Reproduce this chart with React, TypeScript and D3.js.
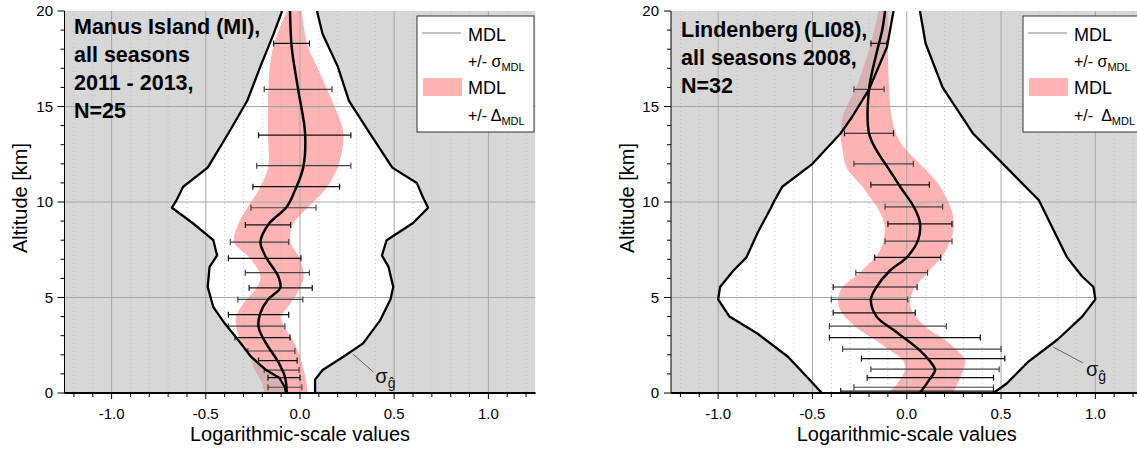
import React from 'react';
import * as d3 from 'd3';

type Pt = [number, number]; // [altitude km, value]
type Band = [number, number, number]; // [altitude km, low, high]

const X_DOMAIN: [number, number] = [-1.25, 1.25];
const Y_DOMAIN: [number, number] = [0, 20];
const xTickLabels = [-1.0, -0.5, 0.0, 0.5, 1.0];
const yTickLabels = [0, 5, 10, 15, 20];

// ---- Manus Island (MI), all seasons 2011 - 2013, N=25 ----
const miTitle = ['Manus Island (MI),', 'all seasons', '2011 - 2013,', 'N=25'];
const miEnvLeft: Pt[] = [
  [0, -0.075], [0.3, -0.08], [0.8, -0.11], [1.2, -0.18], [1.9, -0.26], [2.8, -0.33],
  [3.65, -0.4], [4.5, -0.46], [5.55, -0.49], [6.6, -0.48], [7.2, -0.44], [8.0, -0.46],
  [8.9, -0.57], [9.7, -0.68], [10.1, -0.655], [10.8, -0.62], [11.8, -0.49], [13.6, -0.38],
  [15.3, -0.28], [17.1, -0.21], [18.8, -0.14], [20, -0.095],
];
const miEnvRight: Pt[] = [
  [0, 0.08], [0.7, 0.08], [1.2, 0.12], [1.9, 0.23], [2.6, 0.335], [3.8, 0.425],
  [4.9, 0.48], [5.55, 0.495], [6.6, 0.47], [7.2, 0.435], [8.0, 0.46], [8.9, 0.6],
  [9.7, 0.68], [10.3, 0.65], [11.0, 0.62], [11.8, 0.49], [13.6, 0.37], [15.3, 0.26],
  [17.1, 0.2], [18.8, 0.12], [20, 0.09],
];
const miMdl: Pt[] = [
  [0, -0.07], [0.85, -0.08], [1.7, -0.12], [2.6, -0.18], [3.45, -0.22], [4.2, -0.21],
  [4.9, -0.17], [5.5, -0.105], [6.1, -0.115], [7.1, -0.18], [7.9, -0.21], [8.8, -0.17],
  [9.75, -0.07], [10.6, -0.027], [11.8, 0.017], [13.6, 0.027], [15.9, -0.01],
  [18.1, -0.044], [20, -0.053],
];
const miDelta: Band[] = [
  [0, -0.19, 0.04], [0.5, -0.2, 0.035], [1.2, -0.24, 0.02], [1.9, -0.265, 0.0],
  [2.8, -0.32, -0.04], [3.6, -0.34, -0.09], [4.0, -0.34, -0.1], [4.7, -0.3, -0.05],
  [5.5, -0.23, 0.0], [6.1, -0.21, 0.02], [7.0, -0.26, 0.0], [7.9, -0.35, -0.05],
  [8.8, -0.33, -0.04], [9.7, -0.28, 0.04], [10.6, -0.22, 0.13], [11.8, -0.17, 0.2],
  [13.6, -0.17, 0.23], [15.3, -0.17, 0.17], [17.1, -0.16, 0.09], [18.2, -0.14, 0.04],
  [20, -0.07, 0.01],
];
const miSigma: Band[] = [
  [18.3, -0.14, 0.05], [15.9, -0.19, 0.17], [13.5, -0.22, 0.27], [11.9, -0.23, 0.27],
  [10.8, -0.25, 0.21], [9.7, -0.26, 0.085], [8.8, -0.29, -0.05], [7.9, -0.37, -0.06],
  [7.05, -0.38, 0.005], [6.3, -0.29, 0.05], [5.5, -0.27, 0.065], [4.9, -0.33, 0.015],
  [4.1, -0.38, -0.06], [3.5, -0.38, -0.08], [2.9, -0.345, -0.053], [2.2, -0.277, -0.027],
  [1.7, -0.22, -0.015], [1.2, -0.19, -0.005], [0.8, -0.17, 0.0], [0.3, -0.17, 0.01],
];
const miSigmaG = { leader: [[2.04, 0.28], [1.1, 0.39]] as Pt[], label: [0.5, 0.4] as Pt };

// ---- Lindenberg (LI08), all seasons 2008, N=32 ----
const liTitle = ['Lindenberg (LI08),', 'all seasons 2008,', 'N=32'];
const liEnvLeft: Pt[] = [
  [0, -0.45], [0.85, -0.53], [1.9, -0.63], [3.1, -0.79], [4.0, -0.94], [4.9, -1.0],
  [5.55, -0.99], [6.4, -0.92], [7.1, -0.85], [8.4, -0.79], [9.7, -0.72], [10.1, -0.7],
  [10.8, -0.66], [12.0, -0.5], [13.6, -0.35], [14.45, -0.29], [15.9, -0.2], [18.1, -0.105],
  [20, -0.07],
];
const liEnvRight: Pt[] = [
  [0, 0.46], [0.5, 0.53], [1.6, 0.64], [2.8, 0.8], [4.0, 0.93], [4.9, 1.0], [5.55, 0.99],
  [6.1, 0.93], [7.1, 0.85], [8.5, 0.78], [10.1, 0.7], [10.5, 0.66], [11.8, 0.53],
  [13.6, 0.35], [16.0, 0.19], [18.3, 0.1], [20, 0.07],
];
const liMdl: Pt[] = [
  [0, 0.07], [0.7, 0.12], [1.2, 0.15], [1.7, 0.12], [2.4, 0.05], [3.3, -0.07],
  [4.0, -0.16], [4.9, -0.19], [5.55, -0.16], [6.4, -0.09], [7.1, 0.0], [8.0, 0.06],
  [8.9, 0.07], [9.7, 0.04], [10.8, -0.035], [11.8, -0.1], [12.7, -0.16], [13.6, -0.2],
  [15.9, -0.2], [17.8, -0.16], [19.0, -0.13], [20, -0.115],
];
const liDelta: Band[] = [
  [0, -0.1, 0.245], [0.5, -0.05, 0.27], [1.2, -0.01, 0.3], [1.7, -0.02, 0.31],
  [2.3, -0.1, 0.26], [2.8, -0.17, 0.2], [3.45, -0.27, 0.1], [4.5, -0.36, 0.02],
  [5.4, -0.35, 0.035], [6.3, -0.25, 0.11], [7.5, -0.14, 0.21], [8.9, -0.12, 0.25],
  [10.6, -0.22, 0.19], [11.8, -0.32, 0.09], [12.7, -0.34, 0.0], [13.4, -0.35, -0.05],
  [14.45, -0.34, -0.08], [16.2, -0.26, -0.095], [18.3, -0.19, -0.1], [20, -0.15, -0.1],
];
const liSigma: Band[] = [
  [18.3, -0.19, -0.105], [15.9, -0.28, -0.12], [13.6, -0.33, -0.07], [12.0, -0.28, 0.035],
  [10.9, -0.19, 0.12], [9.75, -0.115, 0.19], [8.85, -0.1, 0.24], [7.95, -0.115, 0.24],
  [7.1, -0.17, 0.18], [6.3, -0.27, 0.11], [5.55, -0.39, 0.055], [4.9, -0.4, 0.005],
  [4.2, -0.39, 0.045], [3.5, -0.41, 0.21], [2.9, -0.41, 0.39], [2.3, -0.34, 0.5],
  [1.8, -0.24, 0.52], [1.25, -0.19, 0.49], [0.8, -0.21, 0.46], [0.3, -0.28, 0.46],
  [0.1, -0.35, 0.46],
];
const liSigmaG = { leader: [[2.41, 0.776], [1.57, 0.935]] as Pt[], label: [0.9, 0.95] as Pt };

const W = 1137;
const H = 449;
const TOP = 11;
const BOTTOM = 393;
const FONT = '"Liberation Sans", Arial, Helvetica, sans-serif';
const PINK = '#ffb3b3';

interface PanelProps {
  id: string;
  left: number;
  right: number;
  yLabelX: number;
  yTitleX: number;
  title: string[];
  titleX: number;
  titleY: number;
  legendX: number;
  legendW: number;
  deltaLabel: string;
  envLeft: Pt[];
  envRight: Pt[];
  mdl: Pt[];
  delta: Band[];
  sigma: Band[];
  sigmaG: { leader: Pt[]; label: Pt };
}

function Panel(p: PanelProps) {
  const x = d3.scaleLinear().domain(X_DOMAIN).range([p.left, p.right]);
  const y = d3.scaleLinear().domain(Y_DOMAIN).range([BOTTOM, TOP]);

  const straight = d3.line<Pt>().x((d) => x(d[1])).y((d) => y(d[0]));
  const smooth = d3
    .line<Pt>()
    .x((d) => x(d[1]))
    .y((d) => y(d[0]))
    .curve(d3.curveCatmullRom.alpha(0.5));
  const band = d3
    .area<Band>()
    .y((d) => y(d[0]))
    .x0((d) => x(d[1]))
    .x1((d) => x(d[2]))
    .curve(d3.curveCatmullRom.alpha(0.5));

  const xl = x(X_DOMAIN[0]);
  const xr = x(X_DOMAIN[1]);
  const poly = [...p.envLeft, ...p.envRight.slice().reverse()];
  const outside = `M${xl},${y(20)}H${xr}V${y(0)}H${xl}Z` + straight(poly) + 'Z';

  const minor = d3.range(-12, 13).map((i) => i / 10);
  const yMinor = d3.range(0, 21);

  const bx = p.legendX;
  const clipId = `clip-${p.id}`;

  return (
    <g>
      <defs>
        <clipPath id={clipId}>
          <rect x={xl} y={TOP} width={xr - xl} height={BOTTOM - TOP} />
        </clipPath>
      </defs>
      <g clipPath={`url(#${clipId})`}>
        <rect x={xl} y={TOP} width={xr - xl} height={BOTTOM - TOP} fill="#fff" />
        <path d={band(p.delta) ?? ''} fill={PINK} />
        <path d={outside} fill="#b0b0b0" fillOpacity={0.5} fillRule="evenodd" />
        {minor
          .filter((v) => Math.round(v * 10) % 5 !== 0)
          .map((v) => (
            <line key={`m${v}`} x1={x(v)} x2={x(v)} y1={TOP} y2={BOTTOM} stroke="#b8b8b8" strokeWidth={0.8} strokeDasharray="1,3" />
          ))}
        {xTickLabels.map((v) => (
          <line key={`g${v}`} x1={x(v)} x2={x(v)} y1={TOP} y2={BOTTOM} stroke="#a6a6a6" strokeWidth={1} />
        ))}
        {[5, 10, 15].map((v) => (
          <line key={`h${v}`} x1={xl} x2={xr} y1={y(v)} y2={y(v)} stroke="#a6a6a6" strokeWidth={1} />
        ))}
        {p.sigma.map((d, i) => (
          <g key={`e${i}`} stroke={i % 2 ? '#444' : '#111'} strokeWidth={1.2}>
            <line x1={x(d[1])} x2={x(d[2])} y1={y(d[0])} y2={y(d[0])} />
            <line x1={x(d[1])} x2={x(d[1])} y1={y(d[0]) - 3} y2={y(d[0]) + 3} />
            <line x1={x(d[2])} x2={x(d[2])} y1={y(d[0]) - 3} y2={y(d[0]) + 3} />
          </g>
        ))}
        <path d={straight(p.envLeft) ?? ''} fill="none" stroke="#000" strokeWidth={2.3} strokeLinejoin="round" />
        <path d={straight(p.envRight) ?? ''} fill="none" stroke="#000" strokeWidth={2.3} strokeLinejoin="round" />
        <path d={smooth(p.mdl) ?? ''} fill="none" stroke="#000" strokeWidth={2.5} />
        <line
          x1={x(p.sigmaG.leader[0][1])}
          y1={y(p.sigmaG.leader[0][0])}
          x2={x(p.sigmaG.leader[1][1])}
          y2={y(p.sigmaG.leader[1][0])}
          stroke="#555"
          strokeWidth={0.9}
        />
        <text x={x(p.sigmaG.label[1])} y={y(p.sigmaG.label[0])} fontFamily={FONT} fontSize={20} fill="#111">
          σ<tspan fontSize={14} dy={5}>ĝ</tspan>
        </text>

        {/* legend */}
        <rect x={bx} y={16} width={p.legendW} height={116} fill="#fff" stroke="#333" strokeWidth={1} />
        <line x1={bx + 5} x2={bx + 44} y1={33} y2={33} stroke="#888" strokeWidth={1} />
        <text x={bx + 51} y={41} fontFamily={FONT} fontSize={18} fill="#000">MDL</text>
        <text x={bx + 51} y={67} fontFamily={FONT} fontSize={16} fill="#000">
          +/- σ<tspan fontSize={11} dy={4}>MDL</tspan>
        </text>
        <rect x={bx + 6} y={78} width={39} height={18} fill={PINK} />
        <text x={bx + 51} y={94} fontFamily={FONT} fontSize={18} fill="#000">MDL</text>
        <text x={bx + 51} y={121} fontFamily={FONT} fontSize={16} fill="#000" style={{ whiteSpace: 'pre' }}>
          {p.deltaLabel}
          <tspan fontSize={11} dy={4}>MDL</tspan>
        </text>
      </g>

      {/* title */}
      <text fontFamily={FONT} fontSize={21.5} fontWeight="bold" fill="#000">
        {p.title.map((t, i) => (
          <tspan key={t} x={p.titleX} y={p.titleY + i * 28}>{t}</tspan>
        ))}
      </text>

      {/* axes */}
      <line x1={xl} x2={xr} y1={BOTTOM} y2={BOTTOM} stroke="#000" strokeWidth={2} />
      <line x1={xl} x2={xl} y1={TOP} y2={BOTTOM} stroke="#000" strokeWidth={1} />
      {minor.map((v) => {
        const major = Math.round(v * 10) % 5 === 0;
        return <line key={`xt${v}`} x1={x(v)} x2={x(v)} y1={BOTTOM} y2={BOTTOM + (major ? 6 : 4)} stroke="#000" strokeWidth={1} />;
      })}
      {yMinor.map((v) => (
        <line key={`yt${v}`} x1={xl - (v % 5 === 0 ? 7 : 4)} x2={xl} y1={y(v)} y2={y(v)} stroke="#000" strokeWidth={1} />
      ))}
      {xTickLabels.map((v) => (
        <text key={`xl${v}`} x={x(v)} y={419} textAnchor="middle" fontFamily={FONT} fontSize={15} fill="#000">
          {v.toFixed(1)}
        </text>
      ))}
      {yTickLabels.map((v) => (
        <text key={`yl${v}`} x={p.yLabelX} y={y(v) + 5} textAnchor="end" fontFamily={FONT} fontSize={15} fill="#000">
          {v}
        </text>
      ))}
      <text x={(xl + xr) / 2} y={441} textAnchor="middle" fontFamily={FONT} fontSize={20} fill="#000">
        Logarithmic-scale values
      </text>
      <text
        transform={`translate(${p.yTitleX},${(TOP + BOTTOM) / 2 - 4}) rotate(-90)`}
        textAnchor="middle"
        fontFamily={FONT}
        fontSize={20}
        fill="#000"
      >
        Altitude [km]
      </text>
    </g>
  );
}

export default function App() {
  return (
    <svg
      width={W}
      height={H}
      viewBox={`0 0 ${W} ${H}`}
      style={{ position: 'absolute', left: 0, top: 0, background: '#fff' }}
    >
      <rect width={W} height={H} fill="#fff" />
      <Panel
        id="mi"
        left={64.5}
        right={535.5}
        yLabelX={53}
        yTitleX={27}
        title={miTitle}
        titleX={74}
        titleY={34}
        legendX={417}
        legendW={117}
        deltaLabel="+/- Δ"
        envLeft={miEnvLeft}
        envRight={miEnvRight}
        mdl={miMdl}
        delta={miDelta}
        sigma={miSigma}
        sigmaG={miSigmaG}
      />
      <Panel
        id="li"
        left={671}
        right={1142.5}
        yLabelX={659}
        yTitleX={634}
        title={liTitle}
        titleX={681}
        titleY={37}
        legendX={1023}
        legendW={130}
        deltaLabel="+/-  Δ"
        envLeft={liEnvLeft}
        envRight={liEnvRight}
        mdl={liMdl}
        delta={liDelta}
        sigma={liSigma}
        sigmaG={liSigmaG}
      />
    </svg>
  );
}
